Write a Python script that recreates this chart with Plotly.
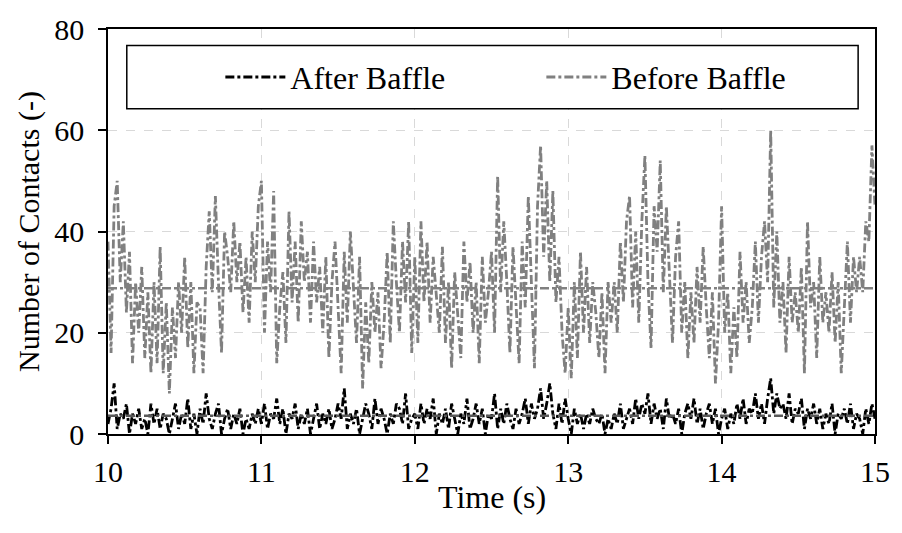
import numpy as np
import plotly.graph_objects as go

# time axis: 10.00 .. 15.00 s, step 0.02 s
time_s = [round(10 + 0.02 * i, 2) for i in range(251)]

before_baffle = [
    38, 16, 45, 50, 30,
    42, 24, 36, 14, 30,
    20, 33, 15, 28, 12,
    30, 14, 37, 12, 26,
    8, 25, 15, 30, 20,
    35, 17, 30, 12, 26,
    25, 12, 33, 44, 28,
    47, 30, 16, 40, 35,
    28, 42, 30, 38, 24,
    35, 22, 40, 30, 45,
    50, 20, 38, 28, 48,
    14, 25, 32, 18, 44,
    26, 38, 22, 42, 30,
    36, 22, 38, 26, 33,
    20, 35, 15, 30, 38,
    24, 12, 36, 22, 40,
    28, 18, 35, 9, 26,
    14, 30, 20, 28, 13,
    22, 36, 18, 42, 30,
    20, 38, 26, 42, 16,
    35, 18, 42, 26, 38,
    22, 35, 28, 20, 37,
    18, 30, 13, 32, 24,
    15, 38, 26, 34, 20,
    30, 14, 35, 22, 28,
    36, 20, 51, 28, 42,
    30, 16, 37, 24, 14,
    38, 25, 47, 30, 13,
    45, 57, 35, 50, 30,
    48, 26, 35, 20, 12,
    25, 11, 30, 15, 36,
    20, 33, 18, 30, 24,
    15, 28, 12, 30, 22,
    30, 20, 38, 26, 42,
    47, 25, 40, 22, 42,
    55, 30, 17, 45, 36,
    54, 28, 45, 32, 18,
    35, 42, 20, 30, 15,
    28, 18, 33, 22, 37,
    25, 15, 28, 10, 22,
    45, 20, 28, 12, 25,
    15, 36, 22, 30, 18,
    25, 38, 22, 35, 42,
    30, 60, 25, 40, 22,
    30, 16, 35, 22, 28,
    20, 33, 12, 42, 25,
    30, 15, 35, 22, 28,
    20, 32, 18, 30, 12,
    26, 38, 22, 35, 28,
    35, 28, 42, 38, 57,
    45,
]

after_baffle = [
    2, 5, 10, 1, 4,
    3, 6, 0, 4, 2,
    5, 1, 3, 0, 6,
    2, 5, 1, 4, 3,
    0, 3, 6, 1, 4,
    2, 7, 1, 4, 0,
    5, 2, 8, 3, 1,
    4, 6, 0, 3, 5,
    1, 4, 2, 5, 0,
    3, 1, 4, 2, 5,
    2, 6, 1, 4, 3,
    7, 2, 5, 0, 4,
    3, 6, 1, 4, 2,
    5, 0, 3, 6, 1,
    4, 2, 5, 1, 3,
    6, 3, 9, 1, 4,
    2, 5, 0, 3, 6,
    4, 1, 7, 2, 5,
    3, 0, 4, 2, 6,
    5, 2, 8, 1, 3,
    4, 1, 6, 2, 5,
    3, 7, 0, 4, 2,
    5, 1, 6, 3, 0,
    4, 2, 7, 1, 3,
    6, 2, 5, 0, 4,
    3, 8, 1, 5, 2,
    6, 3, 1, 5, 2,
    4, 7, 2, 6, 3,
    5, 9, 3, 6, 10,
    4, 1, 6, 2, 7,
    3, 0, 5, 2, 4,
    1, 4, 2, 5, 3,
    2, 4, 0, 3, 1,
    4, 2, 6, 1, 3,
    5, 2, 7, 3, 6,
    4, 8, 2, 6, 3,
    5, 1, 7, 3, 4,
    2, 5, 0, 4, 6,
    3, 7, 2, 5, 1,
    4, 6, 2, 5, 0,
    3, 5, 1, 4, 2,
    6, 3, 7, 2, 5,
    4, 8, 3, 6, 2,
    7, 11, 4, 8, 5,
    6, 3, 8, 2, 5,
    4, 7, 1, 5, 3,
    6, 2, 5, 1, 4,
    2, 6, 0, 4, 3,
    5, 2, 6, 1, 4,
    3, 0, 5, 2, 6,
    3,
]

x_ticks = [10, 11, 12, 13, 14, 15]
y_ticks = [0, 20, 40, 60, 80]

FONT = "Liberation Serif, Times New Roman, serif"
GRAY = "#808080"
FS = 32
TFS = 30

fig = go.Figure()

fig.add_trace(go.Scatter(
    x=time_s, y=after_baffle, mode="lines", name="After Baffle",
    line=dict(color="black", width=2.8, dash="dashdot"),
))
fig.add_trace(go.Scatter(
    x=time_s, y=before_baffle, mode="lines", name="Before Baffle",
    line=dict(color=GRAY, width=2.8, dash="dashdot"),
))

# mean lines
mean_before = float(np.mean(before_baffle))
mean_after = float(np.mean(after_baffle))
fig.add_trace(go.Scatter(
    x=[time_s[0], time_s[-1]], y=[mean_before, mean_before], mode="lines",
    line=dict(color=GRAY, width=2.5, dash="dashdot"), showlegend=False,
))
fig.add_trace(go.Scatter(
    x=[time_s[0], time_s[-1]], y=[mean_after, mean_after], mode="lines",
    line=dict(color="#595959", width=2.5, dash="dashdot"), showlegend=False,
))

# legend frame
fig.add_shape(
    type="rect", xref="paper", yref="paper",
    x0=0.0245, x1=0.978, y0=0.803, y1=0.959,
    line=dict(color="black", width=1.5), fillcolor="white", layer="above",
)

# x-axis title placed as annotation
fig.add_annotation(
    text="Time (s)", xref="paper", yref="paper", x=0.5, y=-0.155,
    xanchor="center", yanchor="middle", showarrow=False,
    font=dict(family=FONT, size=FS, color="black"),
)

fig.update_layout(
    width=902, height=533,
    margin=dict(l=108, r=17, t=22, b=99),
    paper_bgcolor="white", plot_bgcolor="white",
    font=dict(family=FONT, size=FS, color="black"),
    showlegend=True,
    legend=dict(
        orientation="h", x=0.565, xanchor="center", y=0.881, yanchor="middle",
        bgcolor="rgba(0,0,0,0)", font=dict(family=FONT, size=FS, color="black"),
        itemwidth=60, entrywidth=246, tracegroupgap=0,
    ),
    xaxis=dict(
        range=[10, 15], tickvals=x_ticks, ticktext=[str(v) for v in x_ticks],
        showline=True, linecolor="black", linewidth=1.5, mirror=True,
        ticks="outside", ticklen=8, tickcolor="black", tickwidth=1.5,
        showgrid=True, gridcolor="#d9d9d9", griddash="dash", gridwidth=1,
        zeroline=False, ticklabelstandoff=2,
        tickfont=dict(family=FONT, size=TFS),
    ),
    yaxis=dict(
        range=[0, 80], tickvals=y_ticks, ticktext=[str(v) for v in y_ticks],
        showline=True, linecolor="black", linewidth=1.5, mirror=True,
        ticks="outside", ticklen=8, tickcolor="black", tickwidth=1.5,
        showgrid=True, gridcolor="#d9d9d9", griddash="dash", gridwidth=1,
        zeroline=False, ticklabelstandoff=8,
        title=dict(text="Number of Contacts (-)", font=dict(family=FONT, size=30), standoff=6),
        tickfont=dict(family=FONT, size=TFS),
    ),
)

fig.write_html("out.html")
